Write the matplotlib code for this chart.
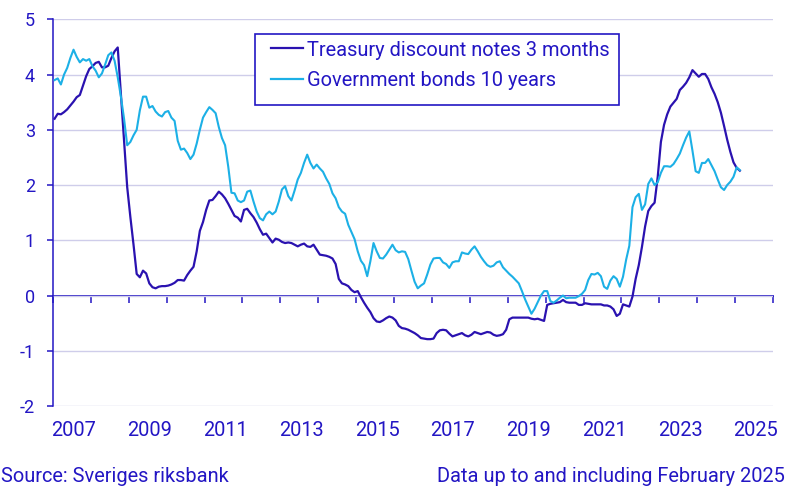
import matplotlib
matplotlib.use('Agg')
import matplotlib.pyplot as plt
from matplotlib.patches import Rectangle
import numpy as np

plt.rcParams['font.family'] = ['Roboto', 'DejaVu Sans']

# Monthly data, January 2007 - February 2025
start_year = 2007
treasury = [
    3.20, 3.29, 3.28, 3.32, 3.37, 3.44, 3.51, 3.59, 3.63, 3.80, 3.97, 4.10,
    4.15, 4.21, 4.23, 4.13, 4.13, 4.16, 4.30, 4.42, 4.49,
    3.65, 2.81, 1.96, 1.42, 0.92, 0.39, 0.33, 0.45, 0.40, 0.22, 0.15, 0.13,
    0.16, 0.17, 0.17, 0.18, 0.20, 0.23, 0.28, 0.28, 0.27, 0.37, 0.45, 0.52, 0.80,
    1.17, 1.33, 1.55, 1.72, 1.73, 1.80, 1.88, 1.83, 1.76, 1.66, 1.55, 1.44,
    1.41, 1.34, 1.55, 1.57, 1.49, 1.42, 1.32, 1.20, 1.10, 1.12, 1.04, 0.96,
    1.03, 1.01, 0.97, 0.95, 0.96, 0.95, 0.92, 0.89, 0.92, 0.94, 0.89, 0.88,
    0.92, 0.83, 0.74, 0.73, 0.72, 0.70, 0.67, 0.57, 0.30, 0.22, 0.20,
    0.17, 0.10, 0.06, 0.08, -0.03, -0.13, -0.22, -0.30, -0.41, -0.47, -0.48,
    -0.45, -0.41, -0.38, -0.40, -0.45, -0.55, -0.59, -0.60, -0.62, -0.65,
    -0.68, -0.72, -0.77, -0.78, -0.79, -0.79, -0.78, -0.68, -0.63, -0.62,
    -0.63, -0.69, -0.74, -0.72, -0.70, -0.68, -0.72, -0.74, -0.71, -0.66,
    -0.68, -0.70, -0.68, -0.66, -0.67, -0.71, -0.73, -0.72, -0.70, -0.62,
    -0.43, -0.40,
    -0.40, -0.40, -0.40, -0.40, -0.40, -0.42, -0.43, -0.42, -0.44, -0.46,
    -0.17, -0.15, -0.14, -0.13, -0.12, -0.08, -0.12, -0.13, -0.13, -0.13,
    -0.17, -0.17, -0.14, -0.15, -0.16, -0.16, -0.16, -0.16, -0.18, -0.18, -0.20,
    -0.25, -0.37, -0.33, -0.16, -0.18, -0.20, -0.02, 0.30, 0.55, 0.88, 1.25,
    1.53, 1.62, 1.68, 2.15, 2.78, 3.09, 3.28, 3.42, 3.49, 3.56, 3.72, 3.78,
    3.85, 3.95, 4.08, 4.02, 3.96, 4.01, 4.01, 3.92, 3.77, 3.65, 3.50, 3.31,
    3.07, 2.82, 2.60, 2.41, 2.31, 2.26,
]
bonds = [
    3.90, 3.93, 3.82, 4.00, 4.12, 4.30, 4.45, 4.32, 4.22, 4.28, 4.25, 4.28,
    4.15, 4.07, 3.95, 4.02, 4.18, 4.35, 4.40, 4.25, 3.95, 3.60, 3.20, 2.72,
    2.78, 2.90, 3.00, 3.35, 3.60, 3.60, 3.40, 3.43, 3.33, 3.27, 3.24, 3.32,
    3.34, 3.22, 3.16, 2.80, 2.64, 2.66, 2.58, 2.47, 2.55, 2.75,
    3.00, 3.22, 3.32, 3.41, 3.36, 3.30, 3.05, 2.85, 2.72, 2.33, 1.86, 1.85,
    1.72, 1.69, 1.72, 1.88, 1.90, 1.70, 1.52, 1.40, 1.36, 1.47, 1.52, 1.47,
    1.52, 1.70, 1.92, 1.98, 1.80, 1.72, 1.90, 2.10, 2.22, 2.40, 2.55, 2.40,
    2.30, 2.37, 2.30, 2.24, 2.12, 2.02, 1.85, 1.76, 1.60, 1.52,
    1.48, 1.28, 1.15, 1.02, 0.80, 0.63, 0.55, 0.35, 0.62, 0.95, 0.80, 0.68,
    0.67, 0.74, 0.83, 0.92, 0.82, 0.78, 0.80, 0.79, 0.66, 0.45, 0.25, 0.13,
    0.18, 0.22, 0.38, 0.56, 0.67, 0.68, 0.68, 0.60, 0.57, 0.50, 0.60, 0.62,
    0.62, 0.78, 0.76, 0.75, 0.83, 0.89, 0.80, 0.70, 0.62, 0.55, 0.52, 0.54,
    0.60, 0.62, 0.51, 0.45, 0.39, 0.34, 0.28, 0.22, 0.08, -0.07, -0.20, -0.33,
    -0.24, -0.12, 0.00, 0.08, 0.08, -0.10, -0.13, -0.09, -0.04, 0.00, -0.05,
    -0.04, -0.04, -0.04, -0.01, 0.03, 0.10, 0.28, 0.39, 0.38, 0.41, 0.35,
    0.16, 0.12, 0.27, 0.35, 0.30, 0.16, 0.34, 0.65, 0.90, 1.60, 1.78, 1.84,
    1.55, 1.65, 2.02, 2.12, 2.00, 2.05, 2.22, 2.34, 2.34, 2.33, 2.38, 2.47,
    2.57, 2.72, 2.86, 2.97, 2.62, 2.25, 2.22, 2.40, 2.40, 2.47, 2.36, 2.25,
    2.10, 1.96, 1.91, 2.00, 2.06, 2.15, 2.32, 2.27,
]
series_names = ['Treasury discount notes 3 months', 'Government bonds 10 years']
tick_years = list(range(2007, 2027))
label_years = list(range(2007, 2026, 2))
y_ticks = list(range(-2, 6))

TXT = '#2316c4'
DARK = '#2a12b0'
LIGHT = '#1cb0e6'
GRID = '#cfcdea'

W, H = 804, 490
x = start_year + (np.arange(len(treasury)) + 0.5) / 12

fig = plt.figure(figsize=(W / 100, H / 100), dpi=100)
ax = fig.add_axes([53 / W, 1 - 406 / H, 720 / W, (406 - 19.3) / H])
ax.set_xlim(2007, 2026)
ax.set_ylim(-2, 5)

ax.plot(x, treasury, color=DARK, lw=1.6, label=series_names[0], zorder=3)
ax.plot(x, bonds, color=LIGHT, lw=1.5, label=series_names[1], zorder=3)

ax.set_yticks(y_ticks)
ax.set_yticklabels([str(v) for v in y_ticks])
ax.grid(axis='y', color=GRID, lw=1)
ax.set_axisbelow(True)
for s in ['top', 'right', 'bottom']:
    ax.spines[s].set_visible(False)
ax.spines['left'].set_color(TXT)
ax.spines['left'].set_linewidth(1.1)
ax.tick_params(axis='y', colors=TXT, labelcolor=TXT, length=4, width=1.1,
               pad=9, labelsize=13)
ax.set_xticks([yr + 0.55 for yr in label_years])
ax.set_xticklabels([str(yr) for yr in label_years])
ax.tick_params(axis='x', length=0, pad=10.5, labelsize=14.4, labelcolor=TXT)

sec = ax.secondary_xaxis(2 / 7)
sec.set_xticks(tick_years)
sec.tick_params(axis='x', direction='out', length=5, width=1.1, color=TXT,
                labelbottom=False, labeltop=False)
sec.spines['bottom'].set_color(TXT)
sec.spines['bottom'].set_linewidth(1.3)

# legend frame + legend
ax.add_patch(Rectangle((255 / W, 1 - 105 / H), (619 - 255) / W, (105 - 34) / H,
                       transform=fig.transFigure, facecolor='white',
                       edgecolor=TXT, lw=1.2, zorder=4, clip_on=False))
leg = ax.legend(loc='upper left', bbox_to_anchor=(271 / W, 1 - 40.5 / H),
                bbox_transform=fig.transFigure, frameon=False, fontsize=14.4,
                handlelength=1.6, handletextpad=0.22, labelspacing=0.56,
                borderpad=0, borderaxespad=0)
leg.set_zorder(5)
for t in leg.get_texts():
    t.set_color(TXT)
for l in leg.get_lines():
    l.set_linewidth(1.6)

fig.text(1.5 / W, 1 - 481.7 / H, 'Source: Sveriges riksbank', ha='left',
         va='baseline', fontsize=14.4, color=TXT)
fig.text(785 / W, 1 - 481.7 / H, 'Data up to and including February 2025',
         ha='right', va='baseline', fontsize=14.4, color=TXT)

fig.savefig('out.png', dpi=100)
